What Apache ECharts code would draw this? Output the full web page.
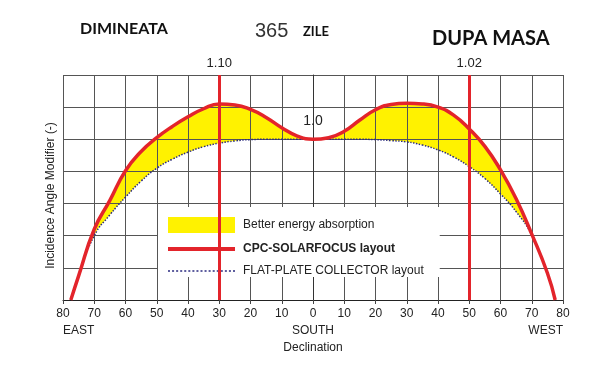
<!DOCTYPE html>
<html>
<head>
<meta charset="utf-8">
<script src="https://cdn.jsdelivr.net/npm/echarts@6/dist/echarts.min.js"></script>
<style>
  html, body { margin: 0; padding: 0; background: #fff; }
  #chart { width: 594px; height: 376px; }
</style>
</head>
<body>
<div id="chart"></div>
<script>
// declinatie (negativ = est, pozitiv = vest)
const declination = [-77.5, -75, -70, -65, -60, -55, -50, -45, -40, -35, -30, -25, -20, -15, -10, -5, 0,
  5, 10, 15, 20, 25, 30, 35, 40, 45, 50, 55, 60, 65, 70, 75, 77.5];
// CPC-SOLARFOCUS (unitati de grila, 1.0 = 5)
const cpcValues = [0, 0.75, 2.2, 3.1, 4.02, 4.62, 5.05, 5.4, 5.7, 5.95, 6.1, 6.07, 5.93, 5.68, 5.36, 5.1, 5.0,
  5.05, 5.25, 5.6, 5.92, 6.08, 6.12, 6.1, 6.0, 5.75, 5.32, 4.78, 4.05, 3.15, 2.05, 0.84, 0];
// FLAT-PLATE COLLECTOR
const flatValues = [0, 0.75, 2.0, 2.65, 3.2, 3.7, 4.1, 4.38, 4.6, 4.77, 4.88, 4.95, 4.99, 5.0, 5.0, 5.0, 5.0,
  5.0, 5.0, 5.0, 4.99, 4.96, 4.92, 4.82, 4.67, 4.45, 4.15, 3.78, 3.3, 2.75, 2.02, 0.84, 0];
const markerDecl = [-30, 50];
const markerLabels = ['1.10', '1.02'];
const centerLabel = { x: 0, y: 5.55, text: '1.0' };
const sideLabels = { '-80': 'EAST', '0': 'SOUTH', '80': 'WEST' };

const RED = '#e3242b';
const YELLOW = '#fff200';
const NAVY = '#2b2b80';
const FONT = 'Liberation Sans';

const pairs = arr => declination.map((d, i) => [d, arr[i]]);

// iconite legenda
const redIcon = 'path://M0,0H67V4H0Z';
let dots = '';
for (let i = 0; i < 17; i++) dots += 'M' + (i * 4) + ',0h2v1.6h-2Z';
const dotIcon = 'path://' + dots;

const titleText = (text, left, top, size, weight, family, color) => ({
  text, left, top, padding: 0,
  textStyle: { fontFamily: family, fontWeight: weight, fontSize: size, color }
});

const chart = echarts.init(document.getElementById('chart'));

chart.setOption({
  animation: false,
  backgroundColor: '#fff',
  title: [
    titleText('DIMINEATA', 80, 21, 16, 'bold', 'Lato', '#111'),
    titleText('365', 255, 21, 20, 'normal', FONT, '#333'),
    titleText('ZILE', 303, 25, 13, 'bold', 'Lato', '#111'),
    titleText('DUPA MASA', 432, 29, 20, 'bold', 'Lato', '#111')
  ],
  grid: { left: 63, right: 31, top: 75, bottom: 76 },
  legend: {
    orient: 'vertical',
    left: 158,
    top: 207,
    z: 3,
    backgroundColor: '#fff',
    padding: [10, 16, 0, 10],
    itemWidth: 67,
    itemHeight: 16,
    itemGap: 10,
    textStyle: { fontFamily: FONT, fontSize: 12, color: '#222', padding: [0, 0, 0, 3] },
    data: [
      { name: 'Better energy absorption', icon: 'rect', itemStyle: { color: YELLOW, borderWidth: 0 } },
      { name: 'CPC-SOLARFOCUS layout', icon: redIcon, itemStyle: { color: RED, borderWidth: 0 }, textStyle: { fontWeight: 'bold' } },
      { name: 'FLAT-PLATE COLLECTOR layout', icon: dotIcon, itemStyle: { color: NAVY, borderWidth: 0 } }
    ]
  },
  xAxis: [
    {
      type: 'value',
      z: 1,
      min: -80,
      max: 80,
      interval: 10,
      name: 'Declination',
      nameLocation: 'middle',
      nameGap: 42,
      nameTextStyle: { fontFamily: FONT, fontSize: 12, color: '#222' },
      axisLine: { lineStyle: { color: '#222', width: 1 } },
      axisTick: { show: true, length: 4, lineStyle: { color: '#444' } },
      axisLabel: { margin: 8, fontFamily: FONT, fontSize: 12, color: '#222', formatter: v => String(Math.abs(v)) },
      splitLine: { show: true, lineStyle: { color: '#555', width: 1 } }
    },
    {
      type: 'value',
      position: 'bottom',
      min: -80,
      max: 80,
      interval: 80,
      axisLine: { show: false },
      axisTick: { show: false },
      splitLine: { show: false },
      axisLabel: {
        margin: 25, fontFamily: FONT, fontSize: 12, color: '#222',
        alignMinLabel: 'left', alignMaxLabel: 'right',
        formatter: v => sideLabels[String(v)] || ''
      }
    }
  ],
  yAxis: {
    type: 'value',
    z: 1,
    min: 0,
    max: 7,
    interval: 1,
    name: 'Incidence Angle Modifier (-)',
    nameLocation: 'middle',
    nameGap: 6,
    nameTextStyle: { fontFamily: FONT, fontSize: 12, color: '#222', padding: [0, 16, 0, 0] },
    axisLine: { show: true, lineStyle: { color: '#333' } },
    axisTick: { show: false },
    axisLabel: { show: false },
    splitLine: { show: true, lineStyle: { color: '#555', width: 1 } }
  },
  series: [
    {
      // zona galbena sub curba CPC
      name: 'Better energy absorption',
      type: 'line',
      smooth: true,
      symbol: 'none',
      silent: true,
      z: 0,
      itemStyle: { color: YELLOW },
      lineStyle: { width: 0, opacity: 0 },
      areaStyle: { color: YELLOW, opacity: 1 },
      data: pairs(cpcValues)
    },
    {
      // acopera partea de sub colectorul plan
      name: 'flat-mask',
      type: 'line',
      smooth: true,
      symbol: 'none',
      silent: true,
      z: 0,
      lineStyle: { width: 0, opacity: 0 },
      areaStyle: { color: '#fff', opacity: 1 },
      data: pairs(flatValues)
    },
    {
      name: 'FLAT-PLATE COLLECTOR layout',
      type: 'line',
      smooth: true,
      symbol: 'none',
      z: 4,
      itemStyle: { color: NAVY },
      lineStyle: { color: NAVY, width: 1.5, type: 'dotted' },
      data: pairs(flatValues)
    },
    {
      name: 'CPC-SOLARFOCUS layout',
      type: 'line',
      smooth: true,
      symbol: 'none',
      z: 5,
      itemStyle: { color: RED },
      lineStyle: { color: RED, width: 3.5 },
      data: pairs(cpcValues),
      markLine: {
        silent: true,
        symbol: 'none',
        lineStyle: { color: RED, width: 3, type: 'solid' },
        label: { position: 'end', distance: 5, fontFamily: FONT, fontSize: 13, color: '#222' },
        data: markerDecl.map((d, i) => ({ xAxis: d, label: { formatter: markerLabels[i] } }))
      },
      markPoint: {
        silent: true,
        symbol: 'rect',
        symbolSize: 1,
        itemStyle: { color: 'rgba(0,0,0,0)' },
        label: { show: true, position: 'inside', fontFamily: FONT, fontSize: 14, color: '#222', formatter: centerLabel.text },
        data: [{ coord: [centerLabel.x, centerLabel.y] }]
      }
    }
  ]
});
</script>
</body>
</html>
